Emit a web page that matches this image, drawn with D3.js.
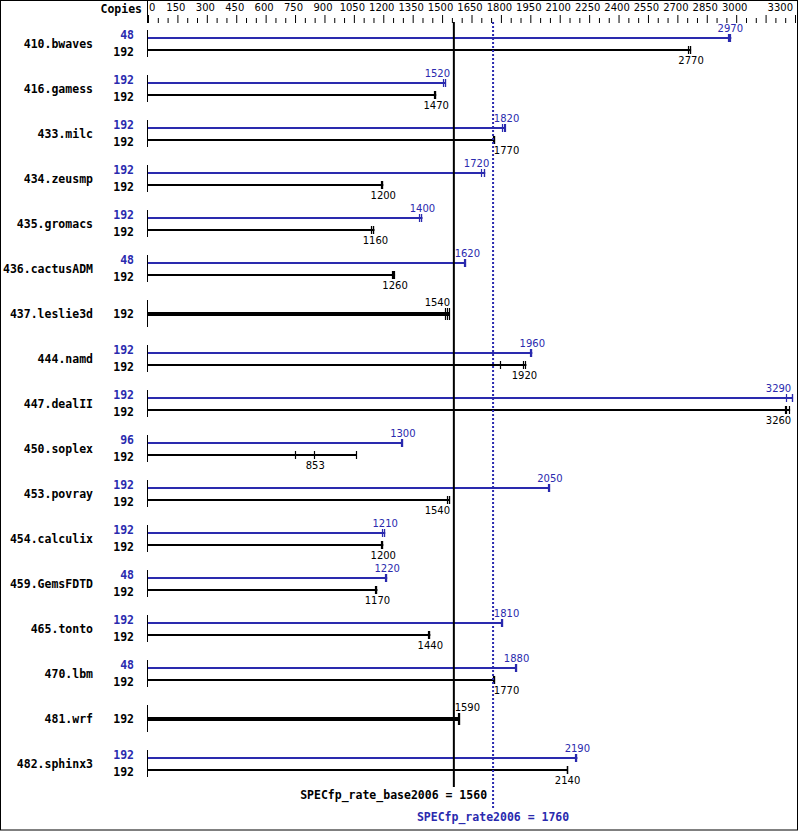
<!DOCTYPE html>
<html>
<head>
<meta charset="utf-8">
<script src="https://cdn.jsdelivr.net/npm/d3@7"></script>
<style>
  body { margin: 0; background: #fff; }
  svg text { font-family: "DejaVu Sans", sans-serif; }
  .bold { font-family: "DejaVu Sans Mono", monospace !important; font-weight: bold; font-size: 11.5px; }
  .num { font-size: 10px; }
</style>
</head>
<body>
<div id="chart"></div>
<script>
var width = 799;
var height = 831;
var blue = "#2a2aae";

var benchmarks = ["410.bwaves","416.gamess","433.milc","434.zeusmp","435.gromacs","436.cactusADM",
  "437.leslie3d","444.namd","447.dealII","450.soplex","453.povray","454.calculix","459.GemsFDTD",
  "465.tonto","470.lbm","481.wrf","482.sphinx3"];

// peak (blue) copies / label / runs ; null = no peak result
var peakCopies = [48,192,192,192,192,48,null,192,192,96,192,192,48,192,48,null,192];
var peakRatio  = [2970,1520,1820,1720,1400,1620,null,1960,3290,1300,2050,1210,1220,1810,1880,null,2190];
var peakRuns = [
  [2965,2970,2975],[1510,1520,1520],[1810,1820,1825],[1705,1720,1720],[1385,1400,1400],
  [1615,1620,1620],null,[1955,1960,1960],[3260,3290,3290],[1295,1300,1300],[2045,2050,2050],
  [1200,1210,1210],[1215,1220,1220],[1805,1810,1810],[1875,1880,1880],null,[2185,2190,2190]
];

// base (black) copies / label / runs
var baseCopies = [192,192,192,192,192,192,192,192,192,192,192,192,192,192,192,192,192];
var baseRatio  = [2770,1470,1770,1200,1160,1260,1540,1920,3260,853,1540,1200,1170,1440,1770,1590,2140];
var baseRuns = [
  [2760,2770,2770],[1465,1470,1470],[1765,1770,1770],[1195,1200,1200],[1145,1155,1155],
  [1250,1255,1260],[1520,1530,1540],[1800,1920,1930],[3255,3260,3275],[755,853,1065],
  [1530,1540,1540],[1195,1200,1200],[1165,1170,1170],[1435,1440,1440],[1765,1770,1770],
  [1585,1590,1590],[2140,2140,2140]
];

var baseScore = 1560;
var peakScore = 1760;
var tickLabels = [0,150,300,450,600,750,900,1050,1200,1350,1500,1650,1800,1950,2100,2250,2400,2550,2700,2850,3000,3300];

var svg = d3.select("#chart").append("svg")
  .attr("width", width)
  .attr("height", height);

svg.append("rect")
  .attr("x", 0.5).attr("y", 0.5)
  .attr("width", 797).attr("height", 829.5)
  .attr("fill", "none").attr("stroke", "#000");

var x = d3.scaleLinear().domain([0, 3300]).range([148, 795]);

var groupY = d3.scaleBand()
  .domain(benchmarks)
  .range([30, 30 + 45 * benchmarks.length]);

// top axis
var axisG = svg.append("g").attr("transform", "translate(0,23)");
axisG.call(d3.axisTop(x).tickValues(d3.range(0, 3301, 50)).tickSize(5).tickFormat(""));
axisG.select(".domain").remove();
axisG.selectAll(".tick line")
  .attr("y2", function(d) { return d % 150 === 0 ? -8 : -5; })
  .attr("stroke", "#000");

svg.selectAll("text.tl")
  .data(tickLabels)
  .enter().append("text")
  .attr("class", "tl num")
  .attr("x", function(d) { return d === 0 ? x(d) + 1 : d === 3300 ? x(d) - 2 : x(d) - 1.5; })
  .attr("y", 11)
  .attr("text-anchor", function(d) { return d === 0 ? "start" : d === 3300 ? "end" : "middle"; })
  .text(function(d) { return d; });

svg.append("line")
  .attr("x1", 147.5).attr("x2", 147.5).attr("y1", 0).attr("y2", 23)
  .attr("stroke", "#000");

svg.append("text")
  .attr("class", "bold")
  .attr("x", 142).attr("y", 13)
  .attr("text-anchor", "end")
  .text("Copies");

// label placement that avoids the two score lines and the right edge
var refLines = [x(baseScore), x(peakScore)];
function labelX(v) {
  var c = x(v), half = 12.5;
  for (var i = 0; i < refLines.length; i++) {
    var L = refLines[i];
    if (c - half < L + 1 && c + half > L - 1) {
      c = c < L ? L - 4 - half : L + 1 + half;
    }
  }
  return Math.min(c, 791 - half);
}

var groups = svg.selectAll("g.bench")
  .data(benchmarks)
  .enter().append("g")
  .attr("class", "bench")
  .attr("transform", function(d) { return "translate(0," + groupY(d) + ")"; });

groups.append("line")
  .attr("x1", 147.5).attr("x2", 147.5).attr("y1", 0).attr("y2", 27)
  .attr("stroke", "#000");

groups.each(function(name, i) {
  var g = d3.select(this);
  var single = peakRatio[i] === null;
  g.append("text")
    .attr("class", "bold")
    .attr("x", 93)
    .attr("y", 18)
    .attr("text-anchor", "end")
    .text(name);

  function drawSeries(y, runs, ratio, copies, color, thick, copiesY, labelY) {
    var maxV = d3.max(runs);
    g.append("line")
      .attr("x1", 148).attr("x2", x(maxV))
      .attr("y1", y).attr("y2", y)
      .attr("stroke", color).attr("stroke-width", thick ? 4 : 2);
    g.selectAll(null)
      .data(runs)
      .enter().append("line")
      .attr("x1", function(d) { return Math.round(x(d)) - 0.5; })
      .attr("x2", function(d) { return Math.round(x(d)) - 0.5; })
      .attr("y1", y - (thick ? 6 : 4)).attr("y2", y + (thick ? 6 : 4))
      .attr("stroke", color).attr("stroke-width", 1.2);
    g.append("text")
      .attr("class", "bold")
      .attr("x", 134).attr("y", copiesY)
      .attr("text-anchor", "end")
      .attr("fill", color)
      .text(copies);
    g.append("text")
      .attr("class", "num")
      .attr("x", labelX(ratio)).attr("y", labelY)
      .attr("text-anchor", "middle")
      .attr("fill", color)
      .text(ratio);
  }

  if (single) {
    drawSeries(14, baseRuns[i], baseRatio[i], baseCopies[i], "#000", true, 18, 6);
  } else {
    drawSeries(8, peakRuns[i], peakRatio[i], peakCopies[i], blue, false, 8.5, 1.5);
    drawSeries(20, baseRuns[i], baseRatio[i], baseCopies[i], "#000", false, 26, 34);
  }
});

// score lines
svg.append("line")
  .attr("x1", x(baseScore)).attr("x2", x(baseScore))
  .attr("y1", 22).attr("y2", 787)
  .attr("stroke", "#000").attr("stroke-width", 2);
svg.append("line")
  .attr("x1", x(peakScore)).attr("x2", x(peakScore))
  .attr("y1", 22).attr("y2", 808)
  .attr("stroke", blue).attr("stroke-width", 2)
  .attr("stroke-dasharray", "2,2");

svg.append("text")
  .attr("class", "bold")
  .attr("x", x(peakScore) - 6).attr("y", 799)
  .attr("text-anchor", "end")
  .text("SPECfp_rate_base2006 = " + baseScore);
svg.append("text")
  .attr("class", "bold")
  .attr("x", x(peakScore)).attr("y", 821)
  .attr("text-anchor", "middle")
  .attr("fill", blue)
  .text("SPECfp_rate2006 = " + peakScore);
</script>
</body>
</html>
